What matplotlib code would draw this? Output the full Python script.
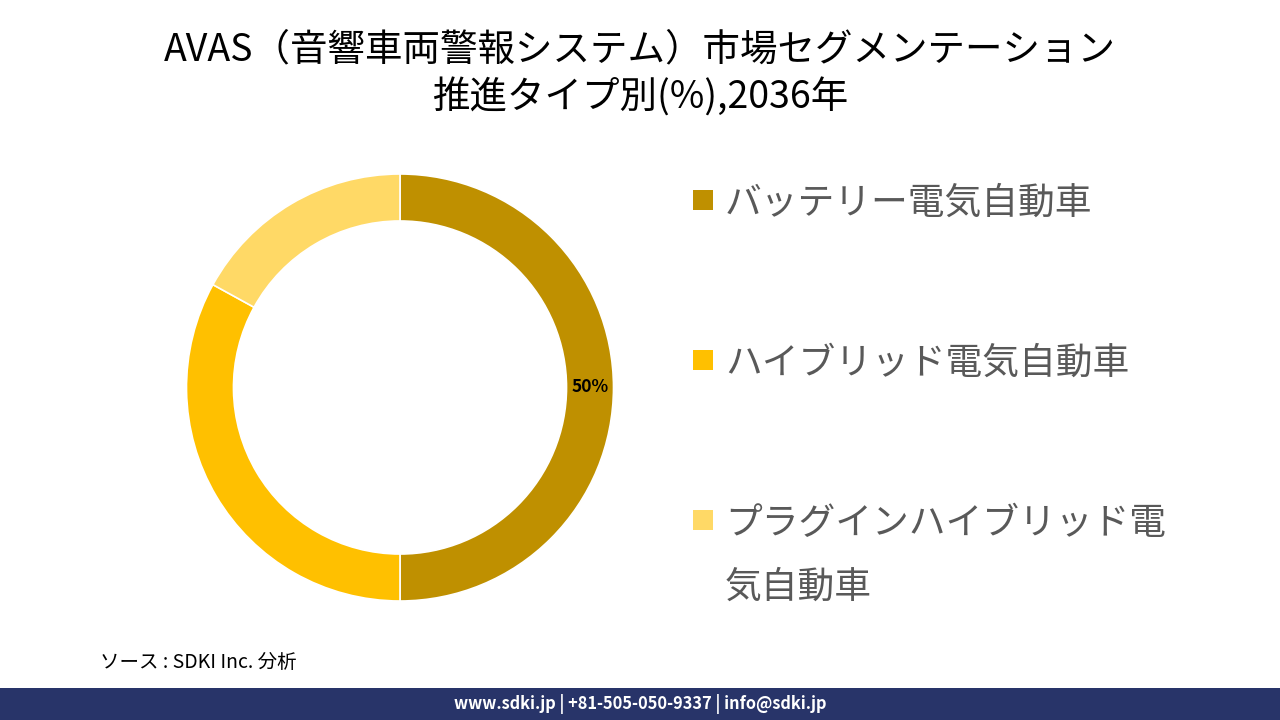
import numpy as np
import matplotlib.pyplot as plt
from matplotlib.patches import Rectangle

plt.rcParams['font.family'] = ['Noto Sans CJK JP', 'DejaVu Sans']

categories = ["バッテリー電気自動車", "ハイブリッド電気自動車", "プラグインハイブリッド電\n気自動車"]
shares = [50, 33, 17]
colors = ["#BF9000", "#FFC000", "#FFD966"]
labels = ["50%", "", ""]

fig = plt.figure(figsize=(12.8, 7.2), dpi=100)

# donut
h = 427 / 720
w = 427 / 1280
ax = fig.add_axes([400 / 1280 - w / 2, 1 - 387.5 / 720 - h / 2, w, h])
wedges, _ = ax.pie(shares, colors=colors, startangle=90, counterclock=False,
                   radius=1.0, wedgeprops=dict(width=0.22, edgecolor="white", linewidth=1.2))
ax.set_aspect("equal")
ax.set_xlim(-1.0, 1.0)
ax.set_ylim(-1.0, 1.0)
for wd, lab in zip(wedges, labels):
    if lab:
        ang = np.deg2rad((wd.theta1 + wd.theta2) / 2)
        ax.text(0.89 * np.cos(ang), 0.89 * np.sin(ang), lab, ha="center", va="center",
                fontsize=12.5, fontweight="bold", color="black")

# title
fig.text(0.5, 1 - 50 / 720, "AVAS（音響車両警報システム）市場セグメンテーション",
         ha="center", va="center", fontsize=27, color="black")
fig.text(0.5, 1 - 98 / 720, "推進タイプ別(%),2036年",
         ha="center", va="center", fontsize=27, color="black")

# legend
ys = [200, 360, 520]
for cat, col, y in zip(categories, colors, ys):
    fig.patches.append(Rectangle((693 / 1280, 1 - (y + 10) / 720), 20 / 1280, 20 / 720,
                                 transform=fig.transFigure, facecolor=col, edgecolor="none"))
    fig.text(725 / 1280, 1 - (y - 16) / 720, cat, ha="left", va="top", fontsize=26.5,
             color="#595959", linespacing=1.82)

# source
fig.text(100 / 1280, 1 - 662 / 720, "ソース : SDKI Inc. 分析", ha="left", va="center",
         fontsize=14, style="italic", color="black")

# footer bar
fig.patches.append(Rectangle((0, 0), 1, 32 / 720, transform=fig.transFigure,
                             facecolor="#283469", edgecolor="none"))
fig.text(0.5, 16 / 720, "www.sdki.jp | +81-505-050-9337 | info@sdki.jp", ha="center", va="center",
         fontsize=11.8, fontweight="bold", color="white")

fig.savefig("out.png", dpi=100)
